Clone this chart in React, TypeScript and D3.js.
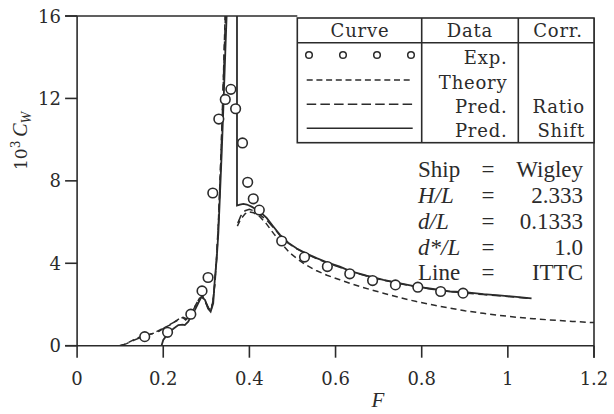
import React from 'react';
import * as d3 from 'd3';

// ---------- data ----------
const xTicks = [0, 0.2, 0.4, 0.6, 0.8, 1, 1.2];
const xTickLabels = ['0', '0.2', '0.4', '0.6', '0.8', '1', '1.2'];
const yTicks = [0, 4, 8, 12, 16];
const yTickLabels = ['0', '4', '8', '12', '16'];

// Experimental points
const expF = [0.157, 0.21, 0.264, 0.29, 0.304, 0.315, 0.329, 0.344, 0.357, 0.368, 0.384, 0.396, 0.409, 0.423, 0.475, 0.528, 0.581, 0.633, 0.686, 0.739, 0.791, 0.844, 0.896];
const expC = [0.44, 0.65, 1.53, 2.66, 3.31, 7.41, 11.0, 11.95, 12.44, 11.5, 9.84, 7.93, 7.13, 6.58, 5.08, 4.3, 3.84, 3.49, 3.16, 2.95, 2.84, 2.63, 2.55];

// Theory (short dash)
const theoryF1 = [0.098, 0.11, 0.123, 0.138, 0.155, 0.177, 0.2, 0.215, 0.227, 0.243, 0.252, 0.262, 0.272, 0.281, 0.29, 0.297, 0.304, 0.311, 0.316, 0.32, 0.324, 0.328, 0.332, 0.336, 0.34, 0.344];
const theoryC1 = [0, 0.06, 0.2, 0.36, 0.5, 0.6, 0.85, 1.0, 1.17, 1.4, 1.25, 1.5, 1.85, 2.2, 2.38, 2.15, 1.85, 1.72, 2.3, 3.1, 4.4, 6.0, 8.2, 10.6, 13.3, 16.3];
const theoryF2 = [0.372, 0.38, 0.39, 0.398, 0.41, 0.425, 0.44, 0.456, 0.475, 0.494, 0.515, 0.533, 0.555, 0.58, 0.61, 0.634, 0.66, 0.688, 0.711, 0.75, 0.788, 0.83, 0.866, 0.9, 0.943, 0.98, 1.021, 1.06, 1.098, 1.15, 1.2];
const theoryC2 = [5.8, 6.15, 6.4, 6.5, 6.45, 6.25, 5.9, 5.45, 4.95, 4.5, 4.15, 3.9, 3.65, 3.42, 3.2, 3.02, 2.85, 2.68, 2.55, 2.33, 2.14, 1.96, 1.82, 1.7, 1.57, 1.47, 1.38, 1.31, 1.25, 1.18, 1.12];

// Prediction, ratio correction (long dash)
const ratioF1 = [0.1, 0.115, 0.13, 0.15, 0.17, 0.19, 0.205, 0.22, 0.235, 0.246, 0.255, 0.265, 0.275, 0.284, 0.292, 0.299, 0.306, 0.312, 0.317, 0.321, 0.325, 0.329, 0.333, 0.337, 0.341, 0.345];
const ratioC1 = [0, 0.1, 0.25, 0.42, 0.55, 0.7, 0.9, 1.08, 1.25, 1.38, 1.3, 1.55, 1.95, 2.3, 2.4, 2.1, 1.8, 1.75, 2.4, 3.3, 4.6, 6.3, 8.5, 11, 13.8, 16.4];
const ratioF2 = [0.373, 0.38, 0.39, 0.4, 0.41, 0.425, 0.44, 0.455, 0.471, 0.49, 0.51, 0.53, 0.556, 0.58, 0.61, 0.634, 0.672, 0.711, 0.75, 0.788, 0.83, 0.866, 0.9, 0.943, 0.98, 1.02, 1.05];
const ratioC2 = [5.95, 6.3, 6.55, 6.62, 6.55, 6.35, 6.1, 5.75, 5.35, 4.98, 4.7, 4.47, 4.22, 4.02, 3.8, 3.6, 3.38, 3.18, 3.01, 2.86, 2.72, 2.62, 2.56, 2.48, 2.42, 2.35, 2.3];

// Prediction, shift correction (solid)
const shiftF1 = [0.196, 0.2, 0.208, 0.216, 0.225, 0.235, 0.245, 0.25, 0.258, 0.266, 0.274, 0.281, 0.289, 0.297, 0.304, 0.31, 0.316, 0.32, 0.324, 0.328, 0.332, 0.336, 0.34, 0.344, 0.348];
const shiftC1 = [0, 0.28, 0.5, 0.7, 0.85, 1.0, 1.02, 1.0, 1.17, 1.49, 1.75, 2.06, 2.38, 2.22, 1.8, 1.65, 2.06, 3.3, 4.2, 5.5, 7.5, 9.5, 11.8, 14.2, 16.5];
const shiftF2 = [0.3712, 0.3712, 0.378, 0.386, 0.394, 0.405, 0.417, 0.43, 0.44, 0.455, 0.471, 0.49, 0.51, 0.53, 0.556, 0.58, 0.61, 0.634, 0.672, 0.711, 0.75, 0.788, 0.83, 0.866, 0.9, 0.943, 0.98, 1.02, 1.055];
const shiftC2 = [16.5, 6.8, 6.85, 6.88, 6.85, 6.75, 6.6, 6.4, 6.2, 5.8, 5.38, 5.0, 4.72, 4.5, 4.25, 4.05, 3.84, 3.62, 3.4, 3.2, 3.03, 2.87, 2.74, 2.63, 2.6, 2.5, 2.44, 2.37, 2.3];

const annoLabels = ['Ship', 'H/L', 'd/L', 'd*/L', 'Line'];
const annoItalic = [false, true, true, true, false];
const annoValues = ['Wigley', '2.333', '0.1333', '1.0', 'ITTC'];

const legendData = ['Exp.', 'Theory', 'Pred.', 'Pred.'];
const legendCorr = ['', '', 'Ratio', 'Shift'];

// ---------- layout ----------
const W = 614, H = 414;
const X0 = 77.1, X1 = 594, Y0 = 345.7, Y1 = 16;
const INK = '#2b2b2b';
const SHORT = '6,4';
const LONG = '9,4.5';

export default function App() {
  const x = d3.scaleLinear().domain([0, 1.2]).range([X0, X1]);
  const y = d3.scaleLinear().domain([0, 16]).range([Y0, Y1]);
  const line = d3.line<[number, number]>().x(d => x(d[0])).y(d => y(d[1]));
  const zip = (a: number[], b: number[]) => a.map((v, i) => [v, b[i]] as [number, number]);

  const tickFont = { fontFamily: 'DejaVu Serif', fontSize: 18, fill: INK } as const;
  const legFont = { fontFamily: 'DejaVu Serif', fontSize: 18, fill: INK, letterSpacing: 0.8 } as const;
  const annoFont = { fontFamily: 'Liberation Serif', fontSize: 23, fill: INK } as const;

  // legend table geometry
  const tL = 297.3, tR = X1, tT = 18, tB = 142.7, hB = 42.7, c1 = 421.7, c2 = 518.3;
  const rowBase = [64, 88.5, 112.5, 136.5];
  const symY = [55, 80, 104.3, 128.3];
  const symX0 = 306.7, symX1 = 412.7;
  const legCircX = [309, 343, 377, 411];

  const annoBase = [177, 203, 229, 255, 280];

  return (
    <svg width={W} height={H} style={{ position: 'absolute', left: 0, top: 0, background: '#fff' }}>
      <defs>
        <clipPath id="plot">
          <rect x={X0} y={Y1} width={X1 - X0} height={Y0 - Y1} />
        </clipPath>
      </defs>
      <rect width={W} height={H} fill="#fff" />

      {/* frame */}
      <g stroke={INK} strokeWidth={1.6} fill="none">
        <line x1={X0} y1={Y1} x2={X0} y2={Y0} />
        <line x1={X0 - 12} y1={Y0} x2={X1} y2={Y0} />
        <line x1={X0 - 12} y1={Y1} x2={tL} y2={Y1} />
        <line x1={X1} y1={tT} x2={X1} y2={Y0 + 12} />
        {xTicks.map((t, i) => (
          <line key={'xt' + i} x1={x(t)} y1={Y0} x2={x(t)} y2={Y0 + 12} />
        ))}
        {yTicks.map((t, i) => (
          <line key={'yt' + i} x1={X0 - 12} y1={y(t)} x2={X0} y2={y(t)} />
        ))}
      </g>

      {/* tick labels */}
      {xTicks.map((t, i) => (
        <text key={'xl' + i} x={x(t)} y={385} textAnchor="middle" {...tickFont}>{xTickLabels[i]}</text>
      ))}
      {yTicks.map((t, i) => (
        <text key={'yl' + i} x={61} y={y(t) + 6.5} textAnchor="end" {...tickFont}>{yTickLabels[i]}</text>
      ))}

      {/* axis titles */}
      <text transform="translate(27,170) rotate(-90)" fill={INK} fontFamily="DejaVu Serif" fontSize={17}>
        10<tspan dy={-7} fontSize={12}>3</tspan>
        <tspan dy={7} dx={4} fontStyle="italic" fontFamily="Liberation Serif" fontSize={20}>C</tspan>
        <tspan dy={4} fontStyle="italic" fontFamily="Liberation Serif" fontSize={14}>W</tspan>
      </text>
      <text x={378} y={407} textAnchor="middle" fontFamily="Liberation Serif" fontStyle="italic" fontSize={21} fill={INK}>F</text>

      {/* curves */}
      <g clipPath="url(#plot)" fill="none" stroke={INK}>
        <path d={line(zip(theoryF1, theoryC1)) || ''} strokeWidth={1.5} strokeDasharray={SHORT} />
        <path d={line(zip(theoryF2, theoryC2)) || ''} strokeWidth={1.5} strokeDasharray={SHORT} />
        <path d={line(zip(ratioF1, ratioC1)) || ''} strokeWidth={1.5} strokeDasharray={LONG} />
        <path d={line(zip(ratioF2, ratioC2)) || ''} strokeWidth={1.5} strokeDasharray={LONG} />
        <path d={line(zip(shiftF1, shiftC1)) || ''} strokeWidth={1.8} />
        <path d={line(zip(shiftF2, shiftC2)) || ''} strokeWidth={1.8} />
      </g>
      <g fill="#fff" stroke={INK} strokeWidth={1.6}>
        {expF.map((f, i) => (
          <circle key={'e' + i} cx={x(f)} cy={y(expC[i])} r={4.8} />
        ))}
      </g>

      {/* legend table */}
      <g stroke={INK} strokeWidth={1.6} fill="none">
        <rect x={tL} y={tT} width={tR - tL} height={tB - tT} fill="#fff" />
        <line x1={tL} y1={hB} x2={tR} y2={hB} />
        <line x1={c1} y1={tT} x2={c1} y2={tB} />
        <line x1={c2} y1={tT} x2={c2} y2={tB} />
        {legCircX.map((cx, i) => (
          <circle key={'lc' + i} cx={cx} cy={symY[0]} r={3.3} strokeWidth={1.5} />
        ))}
        <line x1={symX0} y1={symY[1]} x2={symX1} y2={symY[1]} strokeWidth={1.4} strokeDasharray="6,3.7" />
        <line x1={symX0} y1={symY[2]} x2={symX1} y2={symY[2]} strokeWidth={1.4} strokeDasharray="9.5,4.2" />
        <line x1={symX0} y1={symY[3]} x2={symX1} y2={symY[3]} strokeWidth={1.5} />
      </g>
      <text x={360} y={36.5} textAnchor="middle" {...legFont}>Curve</text>
      <text x={470} y={36.5} textAnchor="middle" {...legFont}>Data</text>
      <text x={558} y={36.5} textAnchor="middle" {...legFont}>Corr.</text>
      {legendData.map((d, i) => (
        <text key={'ld' + i} x={507.5} y={rowBase[i]} textAnchor="end" {...legFont}>{d}</text>
      ))}
      {legendCorr.map((d, i) => (
        <text key={'lr' + i} x={585} y={rowBase[i]} textAnchor="end" {...legFont}>{d}</text>
      ))}

      {/* annotation */}
      {annoLabels.map((l, i) => (
        <g key={'a' + i}>
          <text x={418} y={annoBase[i]} {...annoFont} fontStyle={annoItalic[i] ? 'italic' : 'normal'}>{l}</text>
          <text x={488} y={annoBase[i]} textAnchor="middle" {...annoFont}>=</text>
          <text x={583} y={annoBase[i]} textAnchor="end" {...annoFont}>{annoValues[i]}</text>
        </g>
      ))}
    </svg>
  );
}
